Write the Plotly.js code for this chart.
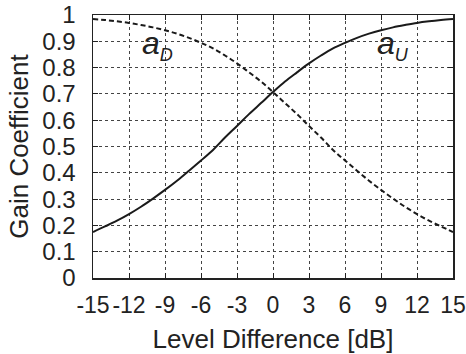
<!DOCTYPE html>
<html><head><meta charset="utf-8">
<script src="https://cdn.plot.ly/plotly-3.0.1.min.js"></script>
<style>html,body{margin:0;padding:0;background:#fff}</style>
</head><body><div id="c" style="width:466px;height:354px"></div>
<script>
const levelDb = [-15,-14,-13,-12,-11,-10,-9,-8,-7,-6,-5,-4,-3,-2,-1,0,1,2,3,4,5,6,7,8,9,10,11,12,13,14,15];
const aU = [0.175,0.196,0.218,0.243,0.271,0.302,0.335,0.370,0.408,0.447,0.487,0.534,0.578,0.623,0.665,0.707,0.747,0.782,0.816,0.846,0.873,0.894,0.913,0.929,0.942,0.953,0.962,0.970,0.976,0.981,0.985];
const aD = [0.985,0.981,0.976,0.970,0.962,0.953,0.942,0.929,0.913,0.894,0.873,0.846,0.816,0.782,0.747,0.707,0.665,0.623,0.578,0.534,0.487,0.447,0.408,0.370,0.335,0.302,0.271,0.243,0.218,0.196,0.175];
const xTicks = [-15,-12,-9,-6,-3,0,3,6,9,12,15];
const yTicks = [0,0.1,0.2,0.3,0.4,0.5,0.6,0.7,0.8,0.9,1];
const yTickText = ['0','0.1','0.2','0.3','0.4','0.5','0.6','0.7','0.8','0.9','1'];
const font = 'Liberation Sans, Arial, sans-serif';
const traces = [
  {x: levelDb, y: aU, mode:'lines', line:{color:'#1a1a1a', width:2, shape:'spline'}, name:'aU'},
  {x: levelDb, y: aD, mode:'lines', line:{color:'#1a1a1a', width:2, dash:'5px,3px', shape:'spline'}, name:'aD'}
];
const ax = {
  showline:true, mirror:'ticks', linecolor:'#222', linewidth:1.5,
  ticks:'inside', ticklen:5, tickcolor:'#222',
  showgrid:true, gridcolor:'#444', griddash:'dot', gridwidth:1,
  zeroline:false
};
const layout = {
  width:466, height:354, margin:{l:93, r:13, t:15, b:76},
  paper_bgcolor:'#fff', plot_bgcolor:'#fff', showlegend:false,
  xaxis: Object.assign({}, ax, {range:[-15,15], tickvals:xTicks, ticktext:xTicks.map(String), ticklabelstandoff:6,
     tickfont:{family:font, size:23, color:'#222'},
     title:{text:'Level Difference [dB]', font:{family:font, size:26, color:'#222'}, standoff:12}}),
  yaxis: Object.assign({}, ax, {range:[0,1], tickvals:yTicks, ticktext:yTickText, ticklabelstandoff:11,
     tickfont:{family:font, size:24, color:'#222'},
     title:{text:'Gain Coefficient', font:{family:font, size:26, color:'#222'}, standoff:6}}),
  annotations:[
    {x:-9.6, y:0.885, xref:'x', yref:'y', showarrow:false, text:'<i>a<sub><span style="font-size:18px">D</span></sub></i>', font:{family:font, size:32, color:'#222'}},
    {x:10.0, y:0.885, xref:'x', yref:'y', showarrow:false, text:'<i>a<sub><span style="font-size:18px">U</span></sub></i>', font:{family:font, size:32, color:'#222'}}
  ]
};
Plotly.newPlot('c', traces, layout, {displayModeBar:false, staticPlot:true});
</script></body></html>
